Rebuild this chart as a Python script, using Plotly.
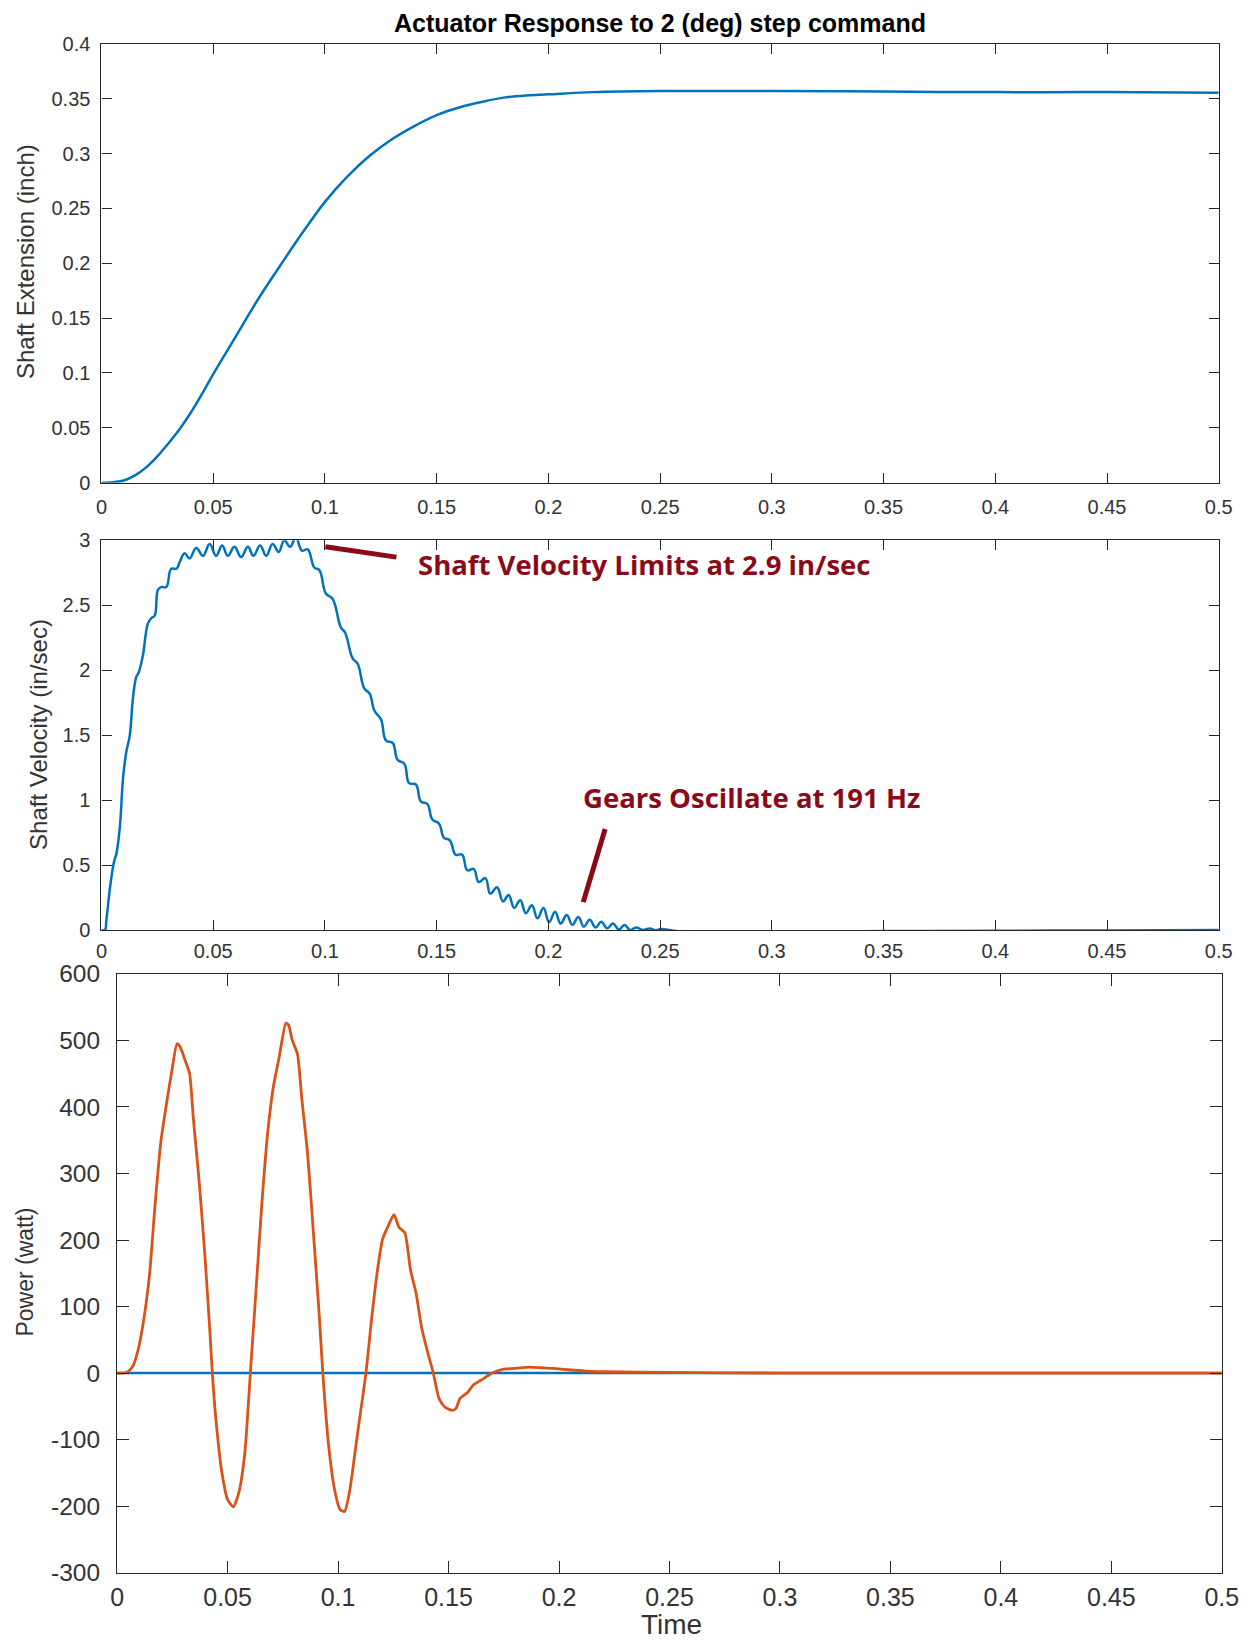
import plotly.graph_objects as go

# ---------------- data ----------------
ext_t = [0.0, 0.005, 0.01, 0.015, 0.02, 0.025, 0.03, 0.035, 0.04, 0.045, 0.05, 0.06, 0.07, 0.08,
         0.09, 0.10, 0.11, 0.12, 0.13, 0.14, 0.15, 0.16, 0.17, 0.18, 0.19, 0.20, 0.22, 0.25,
         0.30, 0.35, 0.40, 0.45, 0.50]
ext_v = [0.0, 0.0005, 0.002, 0.0067, 0.014, 0.024, 0.036, 0.049, 0.064, 0.081, 0.099, 0.133,
         0.167, 0.198, 0.228, 0.256, 0.279, 0.298, 0.313, 0.325, 0.335, 0.342, 0.347, 0.351,
         0.353, 0.354, 0.356, 0.357, 0.357, 0.3565, 0.356, 0.356, 0.3555]

vel_t = [0.0, 0.0015, 0.0022, 0.0037, 0.0052, 0.0060, 0.0067, 0.0082, 0.0097, 0.0112, 0.0126,
         0.0141, 0.0156, 0.0166, 0.0176, 0.0186, 0.0208, 0.0223, 0.0238, 0.0253, 0.0268, 0.0290,
         0.0312, 0.0335, 0.0352, 0.0372, 0.0394, 0.0424, 0.0454, 0.0484, 0.0513, 0.0540, 0.0565,
         0.0595, 0.0625, 0.0655, 0.0680, 0.0710, 0.0737, 0.0766, 0.0793, 0.0818, 0.0844, 0.0870,
         0.0897, 0.0923, 0.0952, 0.0975, 0.1004, 0.1034, 0.1071, 0.1090, 0.1124, 0.1146, 0.1176,
         0.1200, 0.1221, 0.1251, 0.1273, 0.1303, 0.1325, 0.1355, 0.1377, 0.1407, 0.1429, 0.1458,
         0.1481, 0.1510, 0.1533, 0.1559, 0.1585, 0.1614, 0.1637, 0.1666, 0.1688, 0.1718, 0.1740,
         0.1770, 0.1797, 0.1822, 0.1847, 0.1874, 0.1899, 0.1926, 0.1951, 0.1978, 0.2003, 0.2030,
         0.2055, 0.2082, 0.2107, 0.2134, 0.2159, 0.2185, 0.2211, 0.2237, 0.2263, 0.2289, 0.2315,
         0.2341, 0.2366, 0.2393, 0.2423, 0.2453, 0.2480, 0.2505, 0.2560, 0.2620, 0.2700, 0.2800,
         0.2900, 0.3000, 0.3200, 0.3500, 0.4000, 0.4500, 0.5000]
vel_v = [0.0, 0.0, 0.08, 0.31, 0.49, 0.55, 0.59, 0.79, 1.18, 1.38, 1.49,
         1.79, 1.95, 1.98, 2.04, 2.12, 2.36, 2.40, 2.42, 2.62, 2.64, 2.64,
         2.78, 2.78, 2.84, 2.90, 2.86, 2.94, 2.88, 2.97, 2.88, 2.96, 2.88,
         2.95, 2.87, 2.95, 2.88, 2.96, 2.88, 2.97, 2.91, 3.00, 2.95, 3.02,
         2.92, 2.93, 2.79, 2.77, 2.59, 2.55, 2.33, 2.29, 2.09, 2.05, 1.86,
         1.82, 1.69, 1.62, 1.46, 1.44, 1.31, 1.28, 1.13, 1.12, 0.99, 0.97,
         0.85, 0.82, 0.71, 0.69, 0.58, 0.58, 0.46, 0.47, 0.37, 0.40, 0.28,
         0.33, 0.22, 0.27, 0.17, 0.23, 0.13, 0.19, 0.09, 0.17, 0.06, 0.14,
         0.05, 0.115, 0.04, 0.10, 0.026, 0.08, 0.02, 0.064, 0.013, 0.05, 0.005,
         0.038, 0.0, 0.02, 0.0, 0.012, -0.002, 0.008, -0.006, -0.012, -0.015, -0.012,
         -0.015, -0.01, -0.012, -0.008, -0.005, -0.003, 0.0]

pow_t = [0.0, 0.0043, 0.0069, 0.0095, 0.012, 0.0147, 0.0172, 0.0198, 0.0224, 0.025, 0.0271,
         0.0284, 0.031, 0.0328, 0.0345, 0.0371, 0.0397, 0.0419, 0.0431, 0.0448, 0.0474, 0.05,
         0.0526, 0.0552, 0.0578, 0.0603, 0.0629, 0.0655, 0.0681, 0.0707, 0.0733, 0.0764, 0.0776,
         0.0793, 0.0816, 0.0836, 0.0862, 0.0888, 0.0914, 0.0931, 0.0957, 0.0983, 0.1009, 0.1029,
         0.1052, 0.1086, 0.1126, 0.1155, 0.1181, 0.1202, 0.1224, 0.1253, 0.1276, 0.1302, 0.1328,
         0.1353, 0.1379, 0.1405, 0.1431, 0.1457, 0.1483, 0.1517, 0.1534, 0.1552, 0.1586, 0.1612,
         0.1655, 0.1698, 0.175, 0.1802, 0.1862, 0.1922, 0.1974, 0.2043, 0.2129, 0.2216, 0.25,
         0.30, 0.35, 0.40, 0.45, 0.50]
pow_v = [0, 1, 9, 35, 79, 149, 254, 348, 406, 459, 495,
         491, 468, 450, 383, 289, 178, 67, 0, -73, -149, -190,
         -201, -178, -120, 0, 126, 254, 360, 430, 474, 526, 523,
         500, 480, 412, 330, 213, 91, 0, -108, -173, -205, -208,
         -178, -96, 0, 91, 161, 202, 219, 238, 219, 211, 155,
         120, 67, 32, 0, -38, -51, -56, -53, -38, -29, -18,
         -9, 0, 6, 7, 9, 8, 7, 5, 3, 2, 1,
         0, 0, 0, 0, 0]

zero_t = [0.0, 0.5]
zero_v = [0.0, 0.0]

x_ticks = [0, 0.05, 0.1, 0.15, 0.2, 0.25, 0.3, 0.35, 0.4, 0.45, 0.5]
x_labels = ["0", "0.05", "0.1", "0.15", "0.2", "0.25", "0.3", "0.35", "0.4", "0.45", "0.5"]
y1_ticks = [0, 0.05, 0.1, 0.15, 0.2, 0.25, 0.3, 0.35, 0.4]
y1_labels = ["0", "0.05", "0.1", "0.15", "0.2", "0.25", "0.3", "0.35", "0.4"]
y2_ticks = [0, 0.5, 1, 1.5, 2, 2.5, 3]
y2_labels = ["0", "0.5", "1", "1.5", "2", "2.5", "3"]
y3_ticks = [-300, -200, -100, 0, 100, 200, 300, 400, 500, 600]
y3_labels = ["-300", "-200", "-100", "0", "100", "200", "300", "400", "500", "600"]

title_text = "Actuator Response to 2 (deg) step command"
note1 = "Shaft Velocity Limits at 2.9 in/sec"
note2 = "Gears Oscillate at 191 Hz"

# ---------------- figure ----------------
W, H = 1251, 1641
# empirical correction between layout pixels and the photographed page
S, OX, OY = 0.985, 4.5, 11.0
BLUE = "#0072BD"
ORANGE = "#D95319"
DARKRED = "#8B0A1A"
AXC = "#262626"
TXT = "#333333"
FONT = "Liberation Sans, Arial, sans-serif"
NOTEFONT = "Open Sans, Lato, sans-serif"

fig = go.Figure()
fig.add_trace(go.Scatter(x=ext_t, y=ext_v, mode="lines",
                         line=dict(color=BLUE, width=2.5, shape="spline", smoothing=1.0),
                         xaxis="x", yaxis="y", showlegend=False))
fig.add_trace(go.Scatter(x=vel_t, y=vel_v, mode="lines",
                         line=dict(color=BLUE, width=2.5, shape="spline", smoothing=1.2),
                         xaxis="x2", yaxis="y2", showlegend=False))
fig.add_trace(go.Scatter(x=zero_t, y=zero_v, mode="lines", line=dict(color=BLUE, width=2.5),
                         xaxis="x3", yaxis="y3", showlegend=False))
fig.add_trace(go.Scatter(x=pow_t, y=pow_v, mode="lines",
                         line=dict(color=ORANGE, width=2.8, shape="spline", smoothing=0.6),
                         xaxis="x3", yaxis="y3", showlegend=False))


def px_x(p):
    return (p - OX) / S / W


def px_y(p):
    return 1 - (p - OY) / S / H


def xax(dom, anchor, size, standoff, ticklen):
    return dict(domain=dom, anchor=anchor, range=[0, 0.5], tickmode="array", tickvals=x_ticks,
                ticktext=x_labels, ticks="inside", ticklen=ticklen, tickwidth=1, tickcolor=AXC,
                showline=True, linecolor=AXC, linewidth=1.2, mirror="ticks", showgrid=False,
                zeroline=False, tickfont=dict(family=FONT, size=size, color=TXT),
                ticklabelstandoff=standoff)


def yax(dom, anchor, rng, tv, tt, size, standoff, ticklen):
    return dict(domain=dom, anchor=anchor, range=rng, tickmode="array", tickvals=tv, ticktext=tt,
                ticks="inside", ticklen=ticklen, tickwidth=1, tickcolor=AXC, showline=True,
                linecolor=AXC, linewidth=1.2, mirror="ticks", showgrid=False, zeroline=False,
                tickfont=dict(family=FONT, size=size, color=TXT), ticklabelstandoff=standoff)


x1d = [px_x(99.4), px_x(1221.4)]
x3d = [px_x(115.1), px_x(1224.5)]
y1d = [px_y(481.4), px_y(41.9)]
y2d = [px_y(929.4), px_y(539)]
y3d = [px_y(1573), px_y(973.3)]

fig.update_layout(
    width=W, height=H, margin=dict(l=0, r=0, t=0, b=0),
    paper_bgcolor="white", plot_bgcolor="white",
    xaxis=xax(x1d, "y", 20, 6, 10),
    yaxis=yax(y1d, "x", [0, 0.4], y1_ticks, y1_labels, 20, 6, 10),
    xaxis2=xax(x1d, "y2", 20, 3, 10),
    yaxis2=yax(y2d, "x2", [0, 3], y2_ticks, y2_labels, 20, 6, 10),
    xaxis3=xax(x3d, "y3", 25, 2, 12),
    yaxis3=yax(y3d, "x3", [-300, 600], y3_ticks, y3_labels, 24.5, 11, 12),
)

annos = [
    dict(text="<b>" + title_text + "</b>", x=px_x(660), y=px_y(21), xref="paper", yref="paper",
         showarrow=False, font=dict(family=FONT, size=25, color="black"), xanchor="center", yanchor="middle"),
    dict(text="Shaft Extension (inch)", x=px_x(23), y=px_y(260), xref="paper", yref="paper",
         showarrow=False, textangle=-90, font=dict(family=FONT, size=24, color=TXT),
         xanchor="center", yanchor="middle"),
    dict(text="Shaft Velocity (in/sec)", x=px_x(36.6), y=px_y(733), xref="paper", yref="paper",
         showarrow=False, textangle=-90, font=dict(family=FONT, size=24, color=TXT),
         xanchor="center", yanchor="middle"),
    dict(text="Power (watt)", x=px_x(23), y=px_y(1272), xref="paper", yref="paper",
         showarrow=False, textangle=-90, font=dict(family=FONT, size=23, color=TXT),
         xanchor="center", yanchor="middle"),
    dict(text="Time", x=px_x(672), y=px_y(1625), xref="paper", yref="paper",
         showarrow=False, font=dict(family=FONT, size=28, color=TXT),
         xanchor="center", yanchor="middle"),
    dict(text="<b>" + note1 + "</b>", x=0.1409, y=2.815, xref="x2", yref="y2", showarrow=False,
         font=dict(family=NOTEFONT, size=27.5, color=DARKRED),
         xanchor="left", yanchor="middle"),
    dict(text="<b>" + note2 + "</b>", x=0.2147, y=1.02, xref="x2", yref="y2", showarrow=False,
         font=dict(family=NOTEFONT, size=27.5, color=DARKRED),
         xanchor="left", yanchor="middle"),
]
fig.update_layout(annotations=annos)

fig.update_layout(shapes=[
    dict(type="line", xref="x2", yref="y2", x0=0.1002, y0=2.95, x1=0.132, y1=2.87,
         line=dict(color=DARKRED, width=5)),
    dict(type="line", xref="x2", yref="y2", x0=0.2254, y0=0.777, x1=0.2156, y1=0.215,
         line=dict(color=DARKRED, width=5)),
])

fig.write_html("out.html")
